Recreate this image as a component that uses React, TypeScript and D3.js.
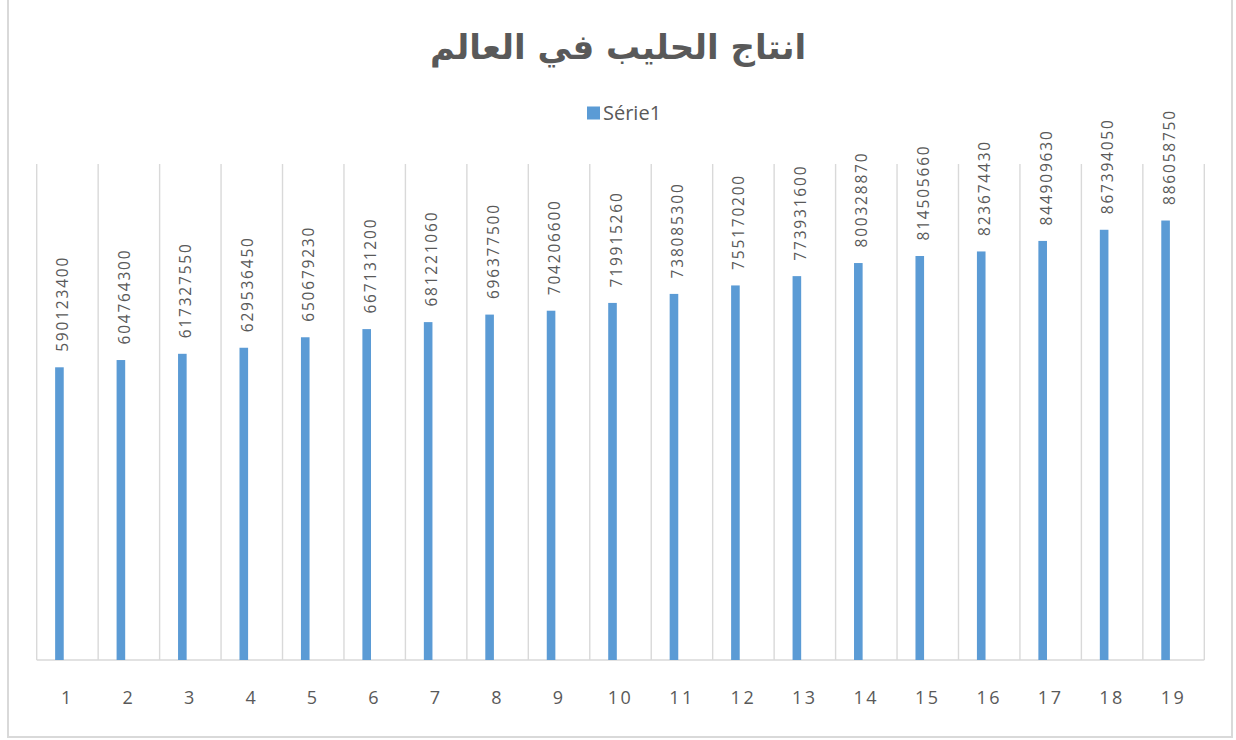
import React from "react";
import * as d3 from "d3";

const title = "انتاج الحليب في العالم";
const seriesName = "Série1";
const categories = ["1","2","3","4","5","6","7","8","9","10","11","12","13","14","15","16","17","18","19"];
const values = [590123400, 604764300, 617327550, 629536450, 650679230, 667131200, 681221060, 696377500, 704206600, 719915260, 738085300, 755170200, 773931600, 800328870, 814505660, 823674430, 844909630, 867394050, 886058750];
const yDomain = [0, 1000000000];

const W = 1236, H = 740;
const plotLeft = 36.7, plotRight = 1204.3, plotTop = 164, plotBottom = 660;
const barColor = "#5b9bd5";
const gridColor = "#d9d9d9";
const textColor = "#595959";
const labelFont = "'Open Sans', 'Liberation Sans', sans-serif";

export default function App() {
  const x = d3.scaleBand<string>().domain(categories).range([plotLeft, plotRight]).paddingInner(0).paddingOuter(0);
  const y = d3.scaleLinear().domain(yDomain).range([plotBottom, plotTop]);
  const bw = x.bandwidth();
  const barW = bw * 0.14;
  const barOff = bw * 0.3;
  const boundaries = categories.map((c) => x(c)!).concat([plotRight]);

  return (
    <svg width={W} height={H} style={{ position: "absolute", left: 0, top: 0, background: "#fff" }}>
      <rect x={8} y={-5} width={1224} height={742} fill="#fff" stroke={gridColor} strokeWidth={2} />
      <text x={618} y={59} textAnchor="middle" direction="rtl" fontFamily="'DejaVu Sans', sans-serif" fontWeight="bold" fontSize={34} fill={textColor}>
        {title}
      </text>
      <rect x={587} y={106.5} width={13} height={13} fill={barColor} />
      <text x={603} y={120} fontFamily={labelFont} fontSize={20} fill={textColor}>{seriesName}</text>
      {boundaries.map((bx, i) => (
        <line key={"g" + i} x1={bx} x2={bx} y1={plotTop} y2={plotBottom} stroke={gridColor} strokeWidth={1.4} />
      ))}
      <line x1={plotLeft} x2={plotRight} y1={plotBottom} y2={plotBottom} stroke={gridColor} strokeWidth={1.6} />
      {values.map((v, i) => {
        const c = categories[i];
        const bx = x(c)! + barOff;
        return (
          <g key={"b" + i}>
            <rect x={bx} y={y(v)} width={barW} height={plotBottom - y(v)} fill={barColor} />
            <text
              transform={`translate(${bx + barW / 2 + 9},${y(v) - 15.5}) rotate(-90)`}
              fontFamily={labelFont}
              fontSize={15.5}
              letterSpacing={1.8}
              fill={textColor}
            >
              {String(v)}
            </text>
          </g>
        );
      })}
      {categories.map((c) => (
        <text key={"t" + c} x={x(c)! + bw / 2} y={703.5} textAnchor="middle" fontFamily={labelFont} fontSize={18} letterSpacing={2.5} fill={textColor}>
          {c}
        </text>
      ))}
    </svg>
  );
}
